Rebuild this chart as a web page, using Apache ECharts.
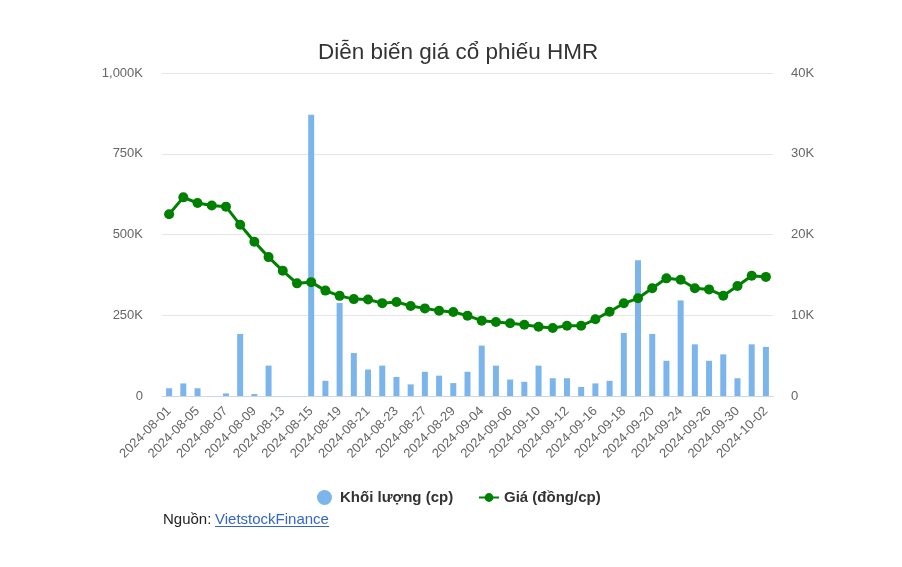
<!DOCTYPE html>
<html>
<head>
<meta charset="utf-8">
<script src="https://cdn.jsdelivr.net/npm/echarts@6/dist/echarts.min.js"></script>
<style>
html,body{margin:0;padding:0;background:#fff;}
#chart{width:902px;height:567px;}
</style>
</head>
<body>
<div id="chart"></div>
<script>
const categories = ["2024-08-01","2024-08-02","2024-08-05","2024-08-06","2024-08-07","2024-08-08","2024-08-09","2024-08-12","2024-08-13","2024-08-14","2024-08-15","2024-08-16","2024-08-19","2024-08-20","2024-08-21","2024-08-22","2024-08-23","2024-08-26","2024-08-27","2024-08-28","2024-08-29","2024-08-30","2024-09-04","2024-09-05","2024-09-06","2024-09-09","2024-09-10","2024-09-11","2024-09-12","2024-09-13","2024-09-16","2024-09-17","2024-09-18","2024-09-19","2024-09-20","2024-09-23","2024-09-24","2024-09-25","2024-09-26","2024-09-27","2024-09-30","2024-10-01","2024-10-02"];
const volume = [24000,39000,24000,0,8000,192000,6000,94000,0,0,871000,47000,288000,133000,82000,94000,59000,36000,75000,63000,40000,75000,156000,94000,51000,44000,94000,55000,55000,28000,39000,47000,195000,420000,192000,109000,296000,160000,109000,129000,55000,160000,152000];
const price = [22500,24600,23900,23600,23450,21200,19100,17200,15500,13950,14100,13050,12400,12000,11950,11500,11650,11150,10850,10550,10400,9950,9330,9160,9000,8830,8580,8420,8700,8700,9500,10440,11480,12100,13340,14570,14400,13340,13200,12420,13620,14900,14750];
const leftTicks = [0,250000,500000,750000,1000000];
const rightTicks = [0,10000,20000,30000,40000];

const FONT = '"Liberation Sans", Arial, sans-serif';
const chart = echarts.init(document.getElementById('chart'));
function fmtK(v){
  if (v === 0) return '0';
  const k = v/1000;
  return k.toLocaleString('en-US') + 'K';
}
chart.setOption({
  animation:false,
  textStyle:{fontFamily:FONT},
  title:{
    text:'Diễn biến giá cổ phiếu HMR',
    left:313, top:36,
    textStyle:{fontFamily:FONT,fontSize:22.5,fontWeight:'normal',color:'#333333'}
  },
  legend:[{
    data:[{name:'Khối lượng (cp)',icon:'circle'}],
    left:312, top:485, itemWidth:15, itemHeight:15,
    textStyle:{fontFamily:FONT,fontSize:15,fontWeight:'bold',color:'#333333',padding:[0,0,0,3]}
  },{
    data:[{name:'Giá (đồng/cp)'}],
    left:473, top:485, itemWidth:20, itemHeight:11,
    textStyle:{fontFamily:FONT,fontSize:15,fontWeight:'bold',color:'#333333'}
  }],
  grid:{left:162,right:129,top:73,bottom:171,containLabel:false},
  xAxis:{
    type:'category', data:categories, boundaryGap:true,
    axisLine:{lineStyle:{color:'#ccd6eb'}},
    axisTick:{alignWithLabel:true, interval:1, length:10, lineStyle:{color:'#ccd6eb'}},
    axisLabel:{interval:1, rotate:45, margin:13, color:'#666666', fontSize:13, fontFamily:FONT}
  },
  yAxis:[{
    type:'value', min:leftTicks[0], max:leftTicks[leftTicks.length-1], interval:leftTicks[1]-leftTicks[0],
    axisLine:{show:false}, axisTick:{show:false},
    axisLabel:{formatter:fmtK, color:'#666666', fontSize:13, margin:19, fontFamily:FONT},
    splitLine:{lineStyle:{color:'#e6e6e6'}}
  },{
    type:'value', min:rightTicks[0], max:rightTicks[rightTicks.length-1], interval:rightTicks[1]-rightTicks[0],
    axisLine:{show:false}, axisTick:{show:false},
    axisLabel:{formatter:fmtK, color:'#666666', fontSize:13, margin:18, fontFamily:FONT},
    splitLine:{show:false}
  }],
  series:[{
    name:'Khối lượng (cp)', type:'bar', yAxisIndex:0, data:volume,
    barWidth:6, itemStyle:{color:'#7cb5ec'}
  },{
    name:'Giá (đồng/cp)', type:'line', yAxisIndex:1, data:price,
    symbol:'circle', symbolSize:10, showAllSymbol:true,
    lineStyle:{color:'#008000', width:3}, itemStyle:{color:'#008000'}
  }],
  graphic:[{
    type:'text', left:163, top:512,
    style:{text:'Nguồn: ', font:'15px '+FONT, fill:'#222222'}
  },{
    type:'text', left:215, top:512,
    style:{text:'VietstockFinance', font:'15px '+FONT, fill:'#3366cc'}
  },{
    type:'line', shape:{x1:215, y1:526.5, x2:329, y2:526.5},
    style:{stroke:'#3366cc', lineWidth:1}
  }]
});
</script>
</body>
</html>
